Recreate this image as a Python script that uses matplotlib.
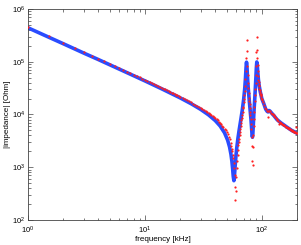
import numpy as np
import matplotlib
matplotlib.use("Agg")
import matplotlib.pyplot as plt
from matplotlib.ticker import LogLocator, NullFormatter

# ---------------- data ----------------
# blue: model curve  (frequency in kHz, |Z| in Ohm)
model_freq = [1, 1.5, 2, 3, 4, 5, 7, 10, 14, 20, 25, 30, 35, 40, 44, 48, 51, 53, 54.5,
              55.5, 56.3, 57, 57.7, 58.4, 59.2, 60, 61, 62.5, 64, 66, 68, 70, 71.5, 72.5,
              73.3, 74, 74.7, 75.5, 76.5, 78, 79.5, 80.8, 81.8, 82.6, 83.2, 83.8, 84.6,
              85.6, 86.8, 88, 89, 89.8, 90.6, 91.4, 92.3, 93.5, 95, 97, 100, 104, 108,
              111, 113, 114, 115, 117, 122, 128, 135, 145, 155, 165, 180, 190, 200]
model_imp = [4.4e5, 2.93e5, 2.2e5, 1.46e5, 1.1e5, 8.77e4, 6.24e4, 4.34e4, 3.05e4, 2.07e4,
             1.59e4, 1.25e4, 9.85e3, 7.66e3, 6.06e3, 4.49e3, 3.27e3, 2.42e3, 1.75e3,
             1.29e3, 933, 668, 556, 708, 1.09e3, 1.58e3, 2.29e3, 3.53e3, 5.05e3, 7.76e3,
             1.19e4, 1.95e4, 3.16e4, 4.92e4, 7.68e4, 9.81e4, 78e3, 50e3, 32e3, 19e3,
             12e3, 81e2, 55e2, 40e2, 37e2, 43e2, 64e2, 11e3, 18e3, 31e3, 50e3, 76e3,
             99e3, 88e3, 65e3, 46e3, 35e3, 27e3, 20e3, 16e3, 12.6e3, 11.5e3, 11.2e3,
             11.6e3, 11.9e3, 11.7e3, 10.5e3, 9.3e3, 8.0e3, 7.0e3, 6.3e3, 5.7e3, 5.0e3,
             4.7e3, 4.4e3]

# red: measured points, frequency sweep in four segments
meas_freq_1 = np.arange(1, 19.75, 0.5)      # 1 ... 19.5 kHz
meas_imp_1 = [46e4, 30.7e4, 23e4, 18.4e4, 15.3e4, 13.1e4, 11.5e4, 10.2e4, 9.17e4, 8.33e4,
              7.63e4, 7.04e4, 6.53e4, 6.09e4, 5.71e4, 5.36e4, 5.06e4, 4.79e4, 4.54e4,
              4.32e4, 4.12e4, 3.94e4, 3.77e4, 3.61e4, 3.47e4, 3.33e4, 3.21e4, 3.09e4,
              2.98e4, 2.88e4, 2.79e4, 2.70e4, 2.61e4, 2.53e4, 2.45e4, 2.38e4, 2.31e4,
              2.25e4]
meas_freq_2 = np.arange(20, 54.5, 1.0)      # 20 ... 54 kHz
meas_imp_2 = [21.8e3, 20.7e3, 19.6e3, 18.7e3, 17.8e3, 16.9e3, 16.1e3, 15.4e3, 14.7e3,
              14.0e3, 13.4e3, 12.8e3, 12.2e3, 11.7e3, 11.2e3, 10.7e3, 10.2e3, 9.8e3,
              9.3e3, 8.9e3, 8.5e3, 8.1e3, 7.7e3, 7.3e3, 6.9e3, 6.5e3, 6.1e3, 5.8e3,
              5.4e3, 5.0e3, 4.6e3, 4.2e3, 3.79e3, 3.37e3, 2.93e3]
meas_freq_3 = np.arange(55, 99.75, 0.5)     # 55 ... 99.5 kHz
meas_imp_3 = [25e2, 22e2, 20e2, 17e2, 15e2, 12e2, 97e1, 70e1, 43e1, 24e1,
              35e1, 64e1, 97e1, 13e2, 17e2, 21e2, 26e2, 30e2, 35e2, 41e2,
              47e2, 53e2, 60e2, 68e2, 77e2, 87e2, 98e2, 11e3, 13e3, 14e3,
              17e3, 20e3, 23e3, 28e3, 35e3, 47e3, 68e3, 12e4, 26e4, 16e4,
              83e3, 55e3, 40e3, 32e3, 26e3, 21e3, 18e3, 16e3, 13e3, 11e3,
              97e2, 81e2, 66e2, 52e2, 38e2, 25e2, 13e2, 11e2, 24e2, 41e2,
              60e2, 83e2, 11e3, 14e3, 18e3, 23e3, 30e3, 40e3, 55e3, 83e3,
              15e4, 30e4, 17e4, 12e4, 85e3, 66e3, 54e3, 46e3, 41e3, 37e3,
              34e3, 31e3, 29e3, 27e3, 25e3, 24e3, 23e3, 22e3, 21e3, 20e3]
meas_freq_4 = np.arange(100, 201, 2.0)      # 100 ... 200 kHz
meas_imp_4 = [19e3, 17e3, 15e3, 13.5e3, 12.5e3, 11.7e3, 8.8e3, 11.6e3, 11.9e3, 11.4e3,
              10.9e3, 10.4e3, 10.0e3, 9.6e3, 9.2e3, 8.8e3, 8.5e3, 8.2e3, 7.9e3, 7.6e3,
              6.6e3, 7.1e3, 7.0e3, 6.8e3, 6.6e3, 6.5e3, 6.4e3, 6.3e3, 6.2e3, 6.0e3,
              5.9e3, 5.8e3, 5.7e3, 5.6e3, 5.5e3, 5.45e3, 5.35e3, 5.25e3, 5.15e3, 5.1e3,
              5.0e3, 4.95e3, 4.9e3, 4.8e3, 4.75e3, 4.7e3, 4.65e3, 4.6e3, 5.8e3, 4.5e3,
              4.4e3]

x_label = 'frequency [kHz]'
y_label = '|impedance| [Ohm]'

# ---------------- figure ----------------
plt.rcParams['font.family'] = ['Liberation Sans', 'DejaVu Sans']

meas_freq = np.concatenate([meas_freq_1, meas_freq_2, meas_freq_3, meas_freq_4])
meas_imp = np.concatenate([meas_imp_1, meas_imp_2, meas_imp_3, meas_imp_4])

fig = plt.figure(figsize=(3.01, 2.45), dpi=100)
ax = fig.add_axes([28/301, 25/245, 269/301, 211/245])
ax.plot(model_freq, model_imp, '-', color='#2a4cff', lw=2.6, zorder=2,
        solid_joinstyle='round')
ax.plot(meas_freq, meas_imp, 'o', color='#ff2020', ms=1.6, mew=0, zorder=3)

ax.set_xscale('log'); ax.set_yscale('log')
ax.set_xlim(1, 200); ax.set_ylim(1e2, 1e6)
ax.xaxis.set_major_locator(LogLocator(base=10, numticks=10))
ax.yaxis.set_major_locator(LogLocator(base=10, numticks=10))
ax.xaxis.set_minor_locator(LogLocator(base=10, subs=np.arange(2, 10), numticks=20))
ax.yaxis.set_minor_locator(LogLocator(base=10, subs=np.arange(2, 10), numticks=20))
ax.xaxis.set_minor_formatter(NullFormatter()); ax.yaxis.set_minor_formatter(NullFormatter())
ax.tick_params(which='both', direction='in', top=True, right=True, labelsize=5.5,
               width=0.5, colors='#444444', labelcolor='black')
ax.tick_params(axis='x', which='major', pad=3.2)
ax.tick_params(axis='y', which='major', pad=2.0)
ax.tick_params(which='major', length=3.5)
ax.tick_params(which='minor', length=1.8)
for s in ax.spines.values():
    s.set_linewidth(0.6); s.set_color('#444444')
ax.set_xlabel(x_label, fontsize=5.8, labelpad=0.3)
ax.set_ylabel(y_label, fontsize=5.8, labelpad=0.3)
fig.savefig('out.png', dpi=100)
